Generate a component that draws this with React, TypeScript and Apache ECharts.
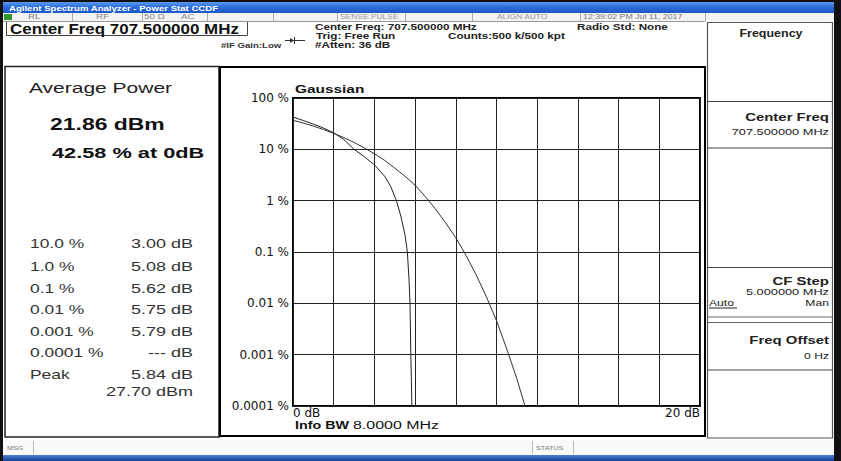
import React, { useEffect, useRef } from "react";
import * as echarts from "echarts";

// ---- data ----
const gaussDb = [0, 0.5, 1, 1.5, 2, 2.5, 3, 3.5, 4, 4.5, 5, 5.5, 6, 6.5, 7, 7.5, 8, 8.5, 9, 9.5, 10, 10.5, 11, 11.4];
const gaussPct = [36.8, 32.6, 28.4, 24.3, 20.5, 16.9, 13.6, 10.7, 8.2, 6.1, 4.3, 3.0, 2.0, 1.2, 0.69, 0.37, 0.19, 0.086, 0.036, 0.0135, 0.0046, 0.0013, 0.00034, 0.0001];
const measDb = [0, 0.5, 1, 1.5, 2, 2.5, 3, 3.5, 4, 4.5, 4.8, 5.08, 5.3, 5.5, 5.62, 5.7, 5.75, 5.79, 5.82, 5.84, 11.4];
const measPct = [42.58, 36.5, 31.0, 26.0, 21.0, 15.5, 10.0, 7.2, 5.0, 3.0, 1.9, 1.0, 0.5, 0.22, 0.1, 0.03, 0.01, 0.001, 0.0003, 0.0001, 0.0001];
const yTickLabels = ["0.0001 %", "0.001 %", "0.01 %", "0.1 %", "1 %", "10 %", "100 %"];
const xTickLabels = ["0 dB", "20 dB"];
const statLabels = ["10.0 %", "1.0 %", "0.1 %", "0.01 %", "0.001 %", "0.0001 %", "Peak"];
const statValues = ["3.00 dB", "5.08 dB", "5.62 dB", "5.75 dB", "5.79 dB", "--- dB", "5.84 dB"];
const peakPower = "27.70 dBm";
const avgPower = "21.86 dBm";
const atZero = "42.58 % at 0dB";

const FONT = '"Liberation Sans", Arial, sans-serif';

function txt(text: string, x: number, y: number, size: number, o: any = {}) {
  const a = o.a ?? "left";
  return {
    type: "text",
    x,
    y,
    scaleX: o.sx ?? (o.b ? 1.35 : 1.5),
    silent: true,
    z: 20,
    style: {
      text,
      fill: o.c ?? "#222",
      fontSize: size,
      fontFamily: FONT,
      fontWeight: o.b ? "bold" : "normal",
      align: a,
      textAlign: a,
      verticalAlign: "middle",
      textVerticalAlign: "middle",
    },
  };
}
function rect(x: number, y: number, w: number, h: number, fill: any, stroke?: string, lw?: number) {
  return {
    type: "rect",
    silent: true,
    z: 5,
    shape: { x, y, width: w, height: h },
    style: { fill: fill ?? "none", stroke: stroke ?? "none", lineWidth: lw ?? 1 },
  };
}
function ln(x1: number, y1: number, x2: number, y2: number, stroke: string, lw = 1) {
  return {
    type: "line",
    silent: true,
    z: 6,
    shape: { x1, y1, x2, y2 },
    style: { stroke, lineWidth: lw },
  };
}

export default function App() {
  const ref = useRef<HTMLDivElement>(null);
  useEffect(() => {
    if (!ref.current) return;
    const chart = echarts.init(ref.current, null, { renderer: "svg" });

    const els: any[] = [];
    // outer frame
    els.push(rect(0, 0, 841, 2, "#111"));
    els.push(rect(0, 0, 3, 461, "#111"));
    els.push(rect(834, 0, 7, 461, "#111"));
    // title bar
    els.push(
      rect(3, 2, 831, 11, new echarts.graphic.LinearGradient(0, 0, 0, 1, [
        { offset: 0, color: "#5a9af0" },
        { offset: 0.5, color: "#2a6ad8" },
        { offset: 1, color: "#1b58c6" },
      ]))
    );
    els.push(txt("Agilent Spectrum Analyzer - Power Stat CCDF", 9, 8, 8, { b: true, c: "#ffffff", sx: 1.2 }));
    // status row
    els.push(rect(3, 13, 831, 8, "#f3f3f3"));
    els.push(ln(3, 21.5, 705, 21.5, "#999"));
    els.push(rect(4, 14, 8, 6, "#2e9a2e"));
    [72, 142, 207, 273, 337, 405, 472, 580, 705].forEach((x) => els.push(ln(x + 0.5, 13, x + 0.5, 21, "#aaa")));
    els.push(txt("RL", 28, 17, 6.5, { c: "#777" }));
    els.push(txt("RF", 96, 17, 6.5, { c: "#888" }));
    els.push(txt("50 Ω", 144, 17, 6.5, { c: "#888" }));
    els.push(txt("AC", 181, 17, 6.5, { c: "#888" }));
    els.push(txt("SENSE:PULSE", 340, 17, 6.5, { c: "#999", sx: 1.3 }));
    els.push(txt("ALIGN AUTO", 497, 17, 6.5, { c: "#999", sx: 1.3 }));
    els.push(txt("12:39:02 PM Jul 11, 2017", 583, 17, 6.5, { c: "#777", sx: 1.35 }));
    // header
    els.push(rect(6.5, 21.5, 241, 14, "none", "#444", 1));
    els.push(txt("Center Freq 707.500000 MHz", 10, 29, 15, { b: true, c: "#111", sx: 1.13 }));
    els.push(txt("Center Freq: 707.500000 MHz", 315, 27, 9, { b: true, c: "#222", sx: 1.3 }));
    els.push(txt("Trig: Free Run", 316, 36, 9, { b: true, c: "#222", sx: 1.3 }));
    els.push(txt("#Atten: 36 dB", 315, 45, 9, { b: true, c: "#222", sx: 1.3 }));
    els.push(txt("#IF Gain:Low", 221, 45, 8, { b: true, c: "#333", sx: 1.2 }));
    els.push(txt("Counts:500 k/500 kpt", 448, 36, 9, { b: true, c: "#222", sx: 1.3 }));
    els.push(txt("Radio Std: None", 577, 27, 9, { b: true, c: "#222", sx: 1.3 }));
    els.push(ln(285, 40.5, 305, 40.5, "#333", 1));
    els.push(ln(294.5, 37, 294.5, 44, "#333", 1));
    els.push({ type: "polygon", silent: true, z: 6, shape: { points: [[290, 38], [294, 40.5], [290, 43]] }, style: { fill: "#333" } });
    // left panel
    els.push(rect(5, 66.5, 214, 370.5, "none", "#222", 1.5));
    els.push(txt("Average Power", 29, 88, 14, { c: "#222", sx: 1.5 }));
    els.push(txt(avgPower, 50, 124, 17, { b: true, c: "#111", sx: 1.35 }));
    els.push(txt(atZero, 52, 153, 15, { b: true, c: "#111", sx: 1.45 }));
    const rowsY = [244, 267, 289, 310, 332, 353, 375];
    statLabels.forEach((s, i) => {
      els.push(txt(s, 30, rowsY[i], 12, { c: "#333", sx: 1.45 }));
      els.push(txt(statValues[i], 193, rowsY[i], 12, { c: "#333", a: "right", sx: 1.5 }));
    });
    els.push(txt(peakPower, 193, 392, 12, { c: "#333", a: "right", sx: 1.5 }));
    // plot window frame
    els.push(rect(220, 67, 485, 369, "none", "#000", 2));
    els.push(txt("Gaussian", 295, 89, 11, { b: true, c: "#111", sx: 1.4 }));
    els.push(txt("Info BW", 295, 425, 11, { b: true, c: "#111", sx: 1.3 }));
    els.push(txt("8.0000 MHz", 353, 425, 11, { c: "#111", sx: 1.45 }));
    // right menu panel
    els.push(rect(707.5, 22.5, 125, 415.5, "none", "#555", 1.2));
    els.push(txt("Frequency", 771, 33, 10, { b: true, c: "#222", a: "center", sx: 1.25 }));
    els.push(ln(707, 101.5, 833, 101.5, "#444", 1.2));
    els.push(ln(707, 148, 833, 148, "#444", 1.2));
    els.push(txt("Center Freq", 829, 117, 11.5, { b: true, c: "#222", a: "right", sx: 1.3 }));
    els.push(txt("707.500000 MHz", 829, 132, 9, { c: "#222", a: "right", sx: 1.42 }));
    els.push(ln(707, 267.5, 833, 267.5, "#444", 1.2));
    els.push(ln(707, 317, 833, 317, "#666", 1));
    els.push(ln(707, 322.5, 833, 322.5, "#666", 1));
    els.push(ln(707, 370, 833, 370, "#444", 1.2));
    els.push(txt("CF Step", 829, 281, 11.5, { b: true, c: "#222", a: "right", sx: 1.3 }));
    els.push(txt("5.000000 MHz", 829, 292, 9, { c: "#222", a: "right", sx: 1.42 }));
    els.push(txt("Auto", 709, 303, 9, { c: "#222", sx: 1.35 }));
    els.push(ln(709, 308, 737, 308, "#222", 1));
    els.push(txt("Man", 829, 303, 9, { c: "#222", a: "right", sx: 1.35 }));
    els.push(txt("Freq Offset", 829, 340, 11.5, { b: true, c: "#222", a: "right", sx: 1.3 }));
    els.push(txt("0 Hz", 829, 356, 9, { c: "#222", a: "right", sx: 1.35 }));
    // message bar
    els.push(rect(3, 440, 831, 15, "#fafafa"));
    els.push(ln(33.5, 441, 33.5, 454, "#bbb"));
    els.push(ln(532.5, 441, 532.5, 454, "#bbb"));
    els.push(ln(573.5, 441, 573.5, 454, "#bbb"));
    els.push(txt("MSG", 7, 448, 6, { c: "#777", sx: 1.2 }));
    els.push(txt("STATUS", 536, 448, 6, { c: "#777", sx: 1.2 }));
    els.push(
      rect(3, 455, 831, 6, new echarts.graphic.LinearGradient(0, 0, 0, 1, [
        { offset: 0, color: "#4a7fd6" },
        { offset: 1, color: "#1a3f96" },
      ]))
    );

    const option: any = {
      animation: false,
      backgroundColor: "#ffffff",
      graphic: { elements: els },
      grid: {
        left: 293,
        top: 98,
        width: 407,
        height: 308,
        show: true,
        borderColor: "#000",
        borderWidth: 2,
        backgroundColor: "transparent",
        containLabel: false,
        outerBoundsMode: "none",
      },
      xAxis: {
        type: "value",
        min: 0,
        max: 20,
        interval: 2,
        axisLine: { show: false },
        axisTick: { show: false },
        splitLine: { show: true, lineStyle: { color: "#222", width: 1 } },
        axisLabel: {
          margin: 1,
          fontSize: 12,
          fontFamily: '"DejaVu Sans", sans-serif',
          color: "#111",
          showMinLabel: true,
          showMaxLabel: true,
          alignMinLabel: "left",
          alignMaxLabel: "right",
          formatter: (v: number) => (v === 0 ? xTickLabels[0] : v === 20 ? xTickLabels[1] : ""),
        },
      },
      yAxis: {
        type: "log",
        logBase: 10,
        min: 0.0001,
        max: 100,
        splitNumber: 6,
        axisLine: { show: false },
        axisTick: { show: false },
        minorTick: { show: false },
        splitLine: { show: true, lineStyle: { color: "#222", width: 1 } },
        axisLabel: {
          margin: 4,
          fontSize: 12,
          fontFamily: '"DejaVu Sans", sans-serif',
          color: "#111",
          showMinLabel: true,
          showMaxLabel: true,
          formatter: (v: number) => yTickLabels[Math.round(Math.log10(v)) + 4] ?? "",
        },
      },
      series: [
        {
          name: "Gaussian",
          type: "line",
          data: gaussDb.map((d, i) => [d, gaussPct[i]]),
          showSymbol: false,
          smooth: false,
          lineStyle: { color: "#333", width: 1 },
          z: 12,
        },
        {
          name: "Measured",
          type: "line",
          data: measDb.map((d, i) => [d, measPct[i]]),
          showSymbol: false,
          smooth: false,
          lineStyle: { color: "#222", width: 1 },
          z: 12,
        },
      ],
    };
    chart.setOption(option);
    return () => chart.dispose();
  }, []);
  return <div ref={ref} style={{ position: "fixed", left: 0, top: 0, width: 841, height: 461 }} />;
}
